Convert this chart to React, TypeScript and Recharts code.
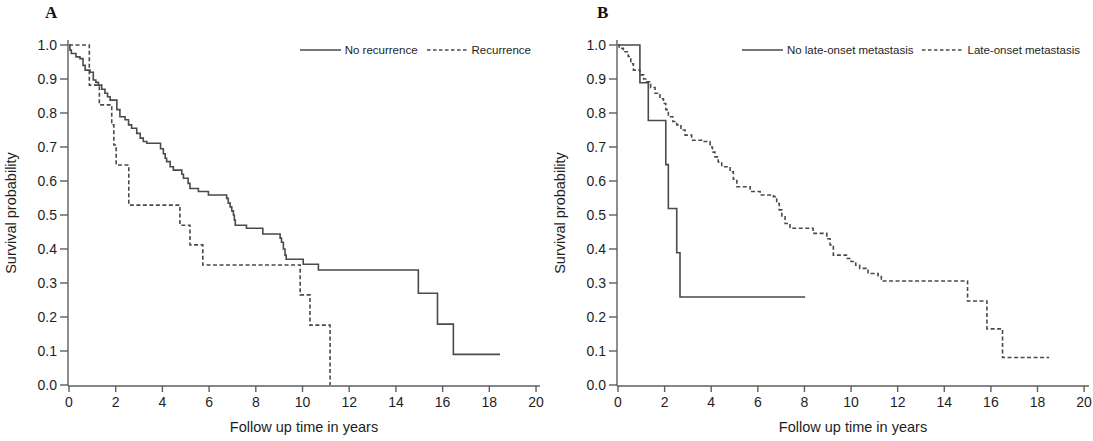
import React from 'react';
import { LineChart, Line, XAxis, YAxis, Legend } from 'recharts';

// Panel A: No recurrence vs Recurrence (Kaplan-Meier steps, time in years)
const aNoRecTime = [0, 0.04, 0.1, 0.3, 0.47, 0.6, 0.69, 0.9, 1.04, 1.15, 1.26, 1.4, 1.54, 1.65, 1.76, 2.05, 2.18, 2.4, 2.55, 2.68, 2.9, 3.05, 3.18, 3.33, 3.92, 4.04, 4.12, 4.18, 4.33, 4.47, 4.83, 4.9, 5.1, 5.18, 5.54, 5.97, 6.75, 6.82, 6.9, 6.97, 7.04, 7.08, 7.12, 7.6, 8.3, 9.04, 9.1, 9.18, 9.25, 9.3, 10.03, 10.68, 14.96, 15.78, 16.46, 18.46];
const aNoRecSurv = [1, 0.985, 0.975, 0.965, 0.96, 0.94, 0.926, 0.92, 0.897, 0.89, 0.882, 0.87, 0.858, 0.848, 0.838, 0.81, 0.789, 0.78, 0.765, 0.755, 0.74, 0.726, 0.716, 0.711, 0.695, 0.68, 0.667, 0.657, 0.642, 0.632, 0.62, 0.608, 0.593, 0.578, 0.569, 0.559, 0.549, 0.535, 0.524, 0.512, 0.5, 0.485, 0.47, 0.461, 0.444, 0.432, 0.42, 0.4, 0.382, 0.37, 0.355, 0.338, 0.27, 0.179, 0.09, 0.09];
const aRecTime = [0, 0.87, 1.3, 1.83, 1.92, 2.02, 2.56, 4.75, 5.18, 5.73, 9.9, 10.32, 11.18];
const aRecSurv = [1, 0.882, 0.824, 0.765, 0.706, 0.647, 0.529, 0.47, 0.412, 0.353, 0.265, 0.176, 0];

// Panel B: No late-onset metastasis vs Late-onset metastasis
const bNoLateTime = [0, 0.94, 1.3, 2.05, 2.16, 2.52, 2.66, 8.03];
const bNoLateSurv = [1, 0.889, 0.778, 0.648, 0.519, 0.389, 0.259, 0.259];
const bLateTime = [0, 0.05, 0.23, 0.44, 0.55, 0.66, 0.94, 1.1, 1.23, 1.4, 1.59, 1.8, 1.95, 2.05, 2.16, 2.35, 2.52, 2.7, 2.88, 3.16, 3.66, 3.95, 4.05, 4.16, 4.3, 4.45, 4.81, 4.95, 5.1, 5.67, 6.1, 6.67, 6.81, 6.92, 7.03, 7.17, 7.38, 8.37, 8.96, 9.1, 9.24, 9.8, 10.0, 10.2, 10.37, 10.73, 11.16, 11.3, 15.0, 15.83, 16.5, 18.5];
const bLateSurv = [1, 0.99, 0.98, 0.966, 0.945, 0.926, 0.912, 0.9, 0.892, 0.875, 0.858, 0.842, 0.828, 0.81, 0.789, 0.775, 0.765, 0.75, 0.735, 0.72, 0.716, 0.7, 0.685, 0.671, 0.656, 0.642, 0.627, 0.605, 0.583, 0.569, 0.559, 0.554, 0.534, 0.515, 0.495, 0.475, 0.461, 0.446, 0.43, 0.412, 0.382, 0.372, 0.363, 0.352, 0.343, 0.328, 0.319, 0.306, 0.247, 0.165, 0.081, 0.081];

const xTicks = [0, 2, 4, 6, 8, 10, 12, 14, 16, 18, 20];
const yTicks = [0, 0.1, 0.2, 0.3, 0.4, 0.5, 0.6, 0.7, 0.8, 0.9, 1.0];

const font = '"Liberation Sans", Arial, sans-serif';
const lineColor = '#4a4a4a';
const frameColor = '#5e5e5e';
const textColor = '#1e1e1e';
const DASH = '4 2.5';

const toRows = (t: number[], s: number[]) => t.map((v, i) => ({ t: v, s: s[i] }));

type Series = { name: string; t: number[]; s: number[]; dashed: boolean };

const panelA: Series[] = [
  { name: 'No recurrence', t: aNoRecTime, s: aNoRecSurv, dashed: false },
  { name: 'Recurrence', t: aRecTime, s: aRecSurv, dashed: true },
];
const panelB: Series[] = [
  { name: 'No late-onset metastasis', t: bNoLateTime, s: bNoLateSurv, dashed: false },
  { name: 'Late-onset metastasis', t: bLateTime, s: bLateSurv, dashed: true },
];

interface PanelProps {
  series: Series[];
  width: number;
  axisWidth: number;
  marginRight: number;
  xDomain: [number, number];
  legendRight: number;
}

function Panel({ series, width, axisWidth, marginRight, xDomain, legendRight }: PanelProps) {
  const yDomain: [number, number] = [-0.003, 1.0147];

  // keep legend items in the order the series are declared
  const renderLegend = (props: any) => {
    const entries = [...(props.payload || [])].sort(
      (a: any, b: any) => series.findIndex((x) => x.name === a.value) - series.findIndex((x) => x.name === b.value)
    );
    return (
      <div style={{ display: 'flex', alignItems: 'center', fontFamily: font, fontSize: 11.5, color: textColor, whiteSpace: 'nowrap' }}>
        {entries.map((entry: any, i: number) => {
          const s = series.find((x) => x.name === entry.value);
          return (
            <span key={i} style={{ display: 'flex', alignItems: 'center', marginLeft: i ? 9 : 0 }}>
              <svg width={41} height={6} style={{ marginRight: 4 }}>
                <line x1={0} y1={3} x2={41} y2={3} stroke={lineColor} strokeWidth={1.4} strokeDasharray={s?.dashed ? '3.5 2.5' : undefined} />
              </svg>
              {entry.value}
            </span>
          );
        })}
      </div>
    );
  };

  const yLabel = (props: any) => {
    const vb = props.viewBox || { x: 0, y: 40, width: axisWidth, height: 346 };
    const x = vb.x + vb.width - 52;
    const y = vb.y + vb.height / 2;
    return (
      <text x={x} y={y} transform={`rotate(-90 ${x} ${y})`} textAnchor="middle" fill={textColor} fontFamily={font} fontSize={14.5}>
        Survival probability
      </text>
    );
  };

  const xLabel = (props: any) => {
    const vb = props.viewBox || { x: axisWidth, y: 386, width: 472, height: 55 };
    return (
      <text x={vb.x + vb.width / 2} y={vb.y + 46} textAnchor="middle" fill={textColor} fontFamily={font} fontSize={14.5}>
        Follow up time in years
      </text>
    );
  };

  return (
    <LineChart width={width} height={441} margin={{ top: 40, right: marginRight, bottom: 0, left: 0 }}>
      <XAxis
        dataKey="t"
        type="number"
        domain={xDomain}
        ticks={xTicks}
        allowDataOverflow
        height={55}
        tickSize={6}
        tickMargin={5}
        axisLine={{ stroke: frameColor, strokeWidth: 1.4 }}
        tickLine={{ stroke: frameColor, strokeWidth: 1.4 }}
        tick={{ fill: textColor, fontSize: 14, fontFamily: font }}
        label={xLabel}
      />
      <XAxis xAxisId="top" orientation="top" type="number" domain={xDomain} allowDataOverflow height={0} tick={false} tickLine={false} axisLine={{ stroke: frameColor, strokeWidth: 1.4 }} />
      <YAxis
        type="number"
        domain={yDomain}
        ticks={yTicks}
        allowDataOverflow
        width={axisWidth}
        tickSize={8}
        tickMargin={3}
        tickFormatter={(v: number) => v.toFixed(1)}
        axisLine={{ stroke: frameColor, strokeWidth: 1.4 }}
        tickLine={{ stroke: frameColor, strokeWidth: 1.4 }}
        tick={{ fill: textColor, fontSize: 14, fontFamily: font }}
        label={yLabel}
      />
      <YAxis yAxisId="right" orientation="right" type="number" domain={yDomain} allowDataOverflow width={0} tick={false} tickLine={false} axisLine={{ stroke: frameColor, strokeWidth: 1.4 }} />
      <Legend
        layout="vertical"
        verticalAlign="middle"
        align="center"
        content={renderLegend}
        wrapperStyle={{ top: 44, right: legendRight, left: 'auto', width: 'auto' }}
      />
      {series.map((s) => (
        <Line
          key={s.name}
          name={s.name}
          data={toRows(s.t, s.s)}
          dataKey="s"
          type="stepAfter"
          stroke={lineColor}
          strokeWidth={1.6}
          strokeDasharray={s.dashed ? DASH : undefined}
          dot={false}
          activeDot={false}
          isAnimationActive={false}
        />
      ))}
    </LineChart>
  );
}

export default function App() {
  return (
    <div style={{ position: 'absolute', left: 0, top: 0, width: 1093, height: 441, background: '#fff' }}>
      <div style={{ position: 'absolute', left: 45, top: 3, fontFamily: '"Liberation Serif", "Times New Roman", serif', fontWeight: 'bold', fontSize: 17, color: '#111' }}>A</div>
      <div style={{ position: 'absolute', left: 597, top: 3, fontFamily: '"Liberation Serif", "Times New Roman", serif', fontWeight: 'bold', fontSize: 17, color: '#111' }}>B</div>
      <div style={{ position: 'absolute', left: 0, top: 0 }}>
        <Panel series={panelA} width={546} axisWidth={68} marginRight={6} xDomain={[-0.043, 20.17]} legendRight={15} />
      </div>
      <div style={{ position: 'absolute', left: 546, top: 0 }}>
        <Panel series={panelB} width={547} axisWidth={71} marginRight={4} xDomain={[-0.043, 20.21]} legendRight={13} />
      </div>
    </div>
  );
}
